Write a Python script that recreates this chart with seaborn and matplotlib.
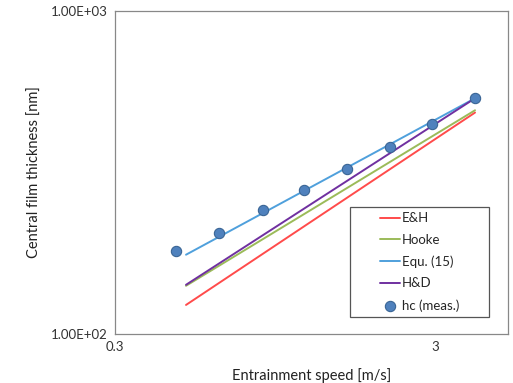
import numpy as np
import pandas as pd
import matplotlib
matplotlib.use('Agg')
import matplotlib.pyplot as plt
import matplotlib.ticker as mticker
from matplotlib.patches import Rectangle
import seaborn as sns

# measured central film thickness
speed_meas = [0.465, 0.635, 0.868, 1.17, 1.59, 2.17, 2.93, 4.0]
hc_meas = [181, 206, 242, 279, 324, 380, 447, 537]

# predictions (straight lines on log-log axes)
speed_pred = [0.50, 4.0]
eh = [123, 485]
hooke = [141, 493]
equ15 = [176, 537]
hd = [142, 537]

series_names = ['E&H', 'Hooke', 'Equ. (15)', 'H&D']
series_values = [eh, hooke, equ15, hd]
series_colors = ['#FF4B4B', '#9BBB59', '#4FA0DC', '#7030A0']

sns.set_style('white')
plt.rcParams['font.family'] = ['Lato', 'DejaVu Sans']

fig = plt.figure(figsize=(5.13, 3.83), dpi=100)
ax = fig.add_axes([0.2242, 0.128, 0.766, 0.843])

for name, vals, col in zip(series_names, series_values, series_colors):
    df = pd.DataFrame({'speed': speed_pred, 'hc': vals})
    sns.lineplot(data=df, x='speed', y='hc', color=col, linewidth=1.4, label=name, ax=ax)

meas = pd.DataFrame({'speed': speed_meas, 'hc': hc_meas})
sns.scatterplot(data=meas, x='speed', y='hc', color='#4F81BD', edgecolor='#3A6595',
                linewidth=0.8, s=55, label='hc (meas.)', zorder=5, ax=ax)

ax.set_xscale('log')
ax.set_yscale('log')
ax.set_xlim(0.3, 5.07)
ax.set_ylim(100, 1000)

ax.xaxis.set_major_locator(mticker.FixedLocator([0.3, 3]))
ax.xaxis.set_minor_locator(mticker.FixedLocator([0.3 * k for k in range(2, 10)]))
ax.xaxis.set_major_formatter(mticker.FuncFormatter(lambda v, p: f'{v:g}'))
ax.xaxis.set_minor_formatter(mticker.NullFormatter())
ax.yaxis.set_major_locator(mticker.FixedLocator([100, 1000]))
ax.yaxis.set_minor_locator(mticker.FixedLocator([100 * k for k in range(2, 10)]))
ax.yaxis.set_major_formatter(mticker.FuncFormatter(lambda v, p: f'{v:.2E}'))
ax.yaxis.set_minor_formatter(mticker.NullFormatter())

ax.tick_params(which='both', direction='in', colors='#888888', labelcolor='#333333',
               labelsize=9.5, width=0.8)
ax.tick_params(which='major', length=5, pad=5)
ax.tick_params(which='minor', length=3)

for sp in ax.spines.values():
    sp.set_color('#888888')
    sp.set_linewidth(0.9)

ax.set_xlabel('Entrainment speed [m/s]', fontsize=10.5, color='#222222', labelpad=11)
ax.set_ylabel('Central film thickness [nm]', fontsize=10.5, color='#222222', labelpad=7)

# legend box drawn separately so the entries sit right of centre like Excel
ax.add_patch(Rectangle((0.598, 0.053), 0.354, 0.34, transform=ax.transAxes,
                       facecolor='white', edgecolor='#555555', linewidth=0.9, zorder=6))
leg = ax.legend(loc='center left', bbox_to_anchor=(0.674, 0.223), fontsize=9.5,
                frameon=False, handlelength=1.5, handletextpad=0.15, labelspacing=0.72,
                borderpad=0, borderaxespad=0)
leg.set_zorder(7)

fig.savefig('out.png', dpi=100)
